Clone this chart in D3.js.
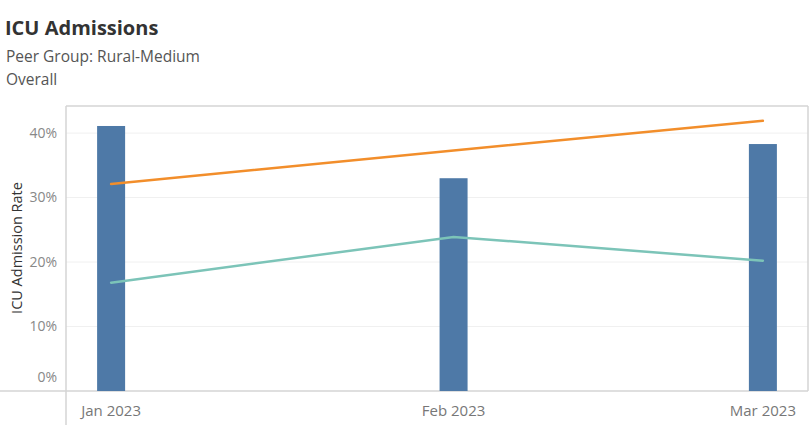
<!DOCTYPE html>
<meta charset="UTF-8">
<head>
    <script src="https://d3js.org/d3.v7.min.js"></script>
    <style>
        body { margin: 0; background: #fff; }
        text { font-family: "Open Sans", Lato, sans-serif; }
        .grid line { stroke: #f0f0f0; stroke-width: 1px; }
    </style>
</head>
<body>
<script>
    // months shown on the x axis
    var months = ["2023-01-01", "2023-02-01", "2023-03-01"];
    var monthLabels = ["Jan 2023", "Feb 2023", "Mar 2023"];
    // ICU admission rate (%) - bars
    var rateValues = [41.1, 33.0, 38.3];
    // orange reference line
    var orangeValues = [32.1, 37.3, 41.9];
    // teal reference line
    var tealValues = [16.8, 23.9, 20.2];
    var yTicks = [0, 10, 20, 30, 40];

    var width = 810, height = 425;
    var plotLeft = 66, plotRight = 808, plotTop = 106, plotBottom = 391;

    var svg = d3.select("body").append("svg")
        .attr("width", width)
        .attr("height", height);

    var parse = d3.utcParse("%Y-%m-%d");
    var dates = months.map(parse);

    // about 4 days of padding each side of the months
    var x = d3.scaleUtc()
        .domain([new Date(Date.UTC(2022, 11, 27, 22)), new Date(Date.UTC(2023, 2, 5, 2))])
        .range([plotLeft, plotRight]);

    var y = d3.scaleLinear()
        .domain([0, 44.2])
        .range([plotBottom, plotTop]);

    // titles
    svg.append("text").attr("x", 5).attr("y", 35)
        .style("font-size", "20px").style("font-weight", "bold").style("fill", "#333")
        .text("ICU Admissions");
    svg.append("text").attr("x", 6).attr("y", 62)
        .style("font-size", "15.5px").style("fill", "#555")
        .text("Peer Group: Rural-Medium");
    svg.append("text").attr("x", 6).attr("y", 85)
        .style("font-size", "15.5px").style("fill", "#555")
        .text("Overall");

    // gridlines
    svg.append("g").attr("class", "grid")
        .selectAll("line").data(yTicks.slice(1)).enter()
        .append("line")
        .attr("x1", plotLeft).attr("x2", plotRight)
        .attr("y1", function (d) { return y(d); })
        .attr("y2", function (d) { return y(d); });

    // frame
    svg.append("line").attr("x1", plotLeft).attr("x2", plotRight).attr("y1", plotTop).attr("y2", plotTop)
        .attr("stroke", "#d4d4d4").attr("stroke-width", 1.5);
    svg.append("line").attr("x1", plotRight).attr("x2", plotRight).attr("y1", plotTop).attr("y2", plotBottom)
        .attr("stroke", "#d4d4d4").attr("stroke-width", 1.5);
    svg.append("line").attr("x1", plotLeft).attr("x2", plotLeft).attr("y1", plotTop).attr("y2", height)
        .attr("stroke", "#d4d4d4").attr("stroke-width", 1.5);
    svg.append("line").attr("x1", 0).attr("x2", plotRight).attr("y1", plotBottom).attr("y2", plotBottom)
        .attr("stroke", "#d4d4d4").attr("stroke-width", 1.5);

    // bars
    var barW = 28;
    svg.append("g").selectAll("rect").data(rateValues).enter()
        .append("rect")
        .attr("x", function (d, i) { return x(dates[i]) - barW / 2; })
        .attr("y", function (d) { return y(d); })
        .attr("width", barW)
        .attr("height", function (d) { return y(0) - y(d); })
        .attr("fill", "#4e79a7");

    var line = d3.line()
        .x(function (d, i) { return x(dates[i]); })
        .y(function (d) { return y(d); });

    svg.append("path").datum(tealValues)
        .attr("d", line)
        .attr("fill", "none")
        .attr("stroke", "#7cc4b8")
        .attr("stroke-width", 2.5)
        .attr("stroke-linecap", "round");

    svg.append("path").datum(orangeValues)
        .attr("d", line)
        .attr("fill", "none")
        .attr("stroke", "#f28e2b")
        .attr("stroke-width", 2.5)
        .attr("stroke-linecap", "round");

    // y axis labels (0% sits up inside the frame like the original)
    svg.append("g").selectAll("text").data(yTicks).enter()
        .append("text")
        .attr("x", plotLeft - 9)
        .attr("y", function (d) { return d === 0 ? y(d) - 14 : y(d); })
        .attr("dy", "0.35em")
        .attr("text-anchor", "end")
        .style("fill", "#888").style("font-size", "14px")
        .text(function (d) { return d + "%"; });

    svg.append("text")
        .attr("transform", "translate(22,248) rotate(-90)")
        .attr("text-anchor", "middle")
        .style("font-size", "14.5px").style("fill", "#333")
        .text("ICU Admission Rate");

    // x axis labels
    svg.append("g").selectAll("text").data(monthLabels).enter()
        .append("text")
        .attr("x", function (d, i) { return x(dates[i]); })
        .attr("y", 416)
        .attr("text-anchor", "middle")
        .style("fill", "#777").style("font-size", "15px")
        .text(function (d) { return d; });
</script>
</body>
